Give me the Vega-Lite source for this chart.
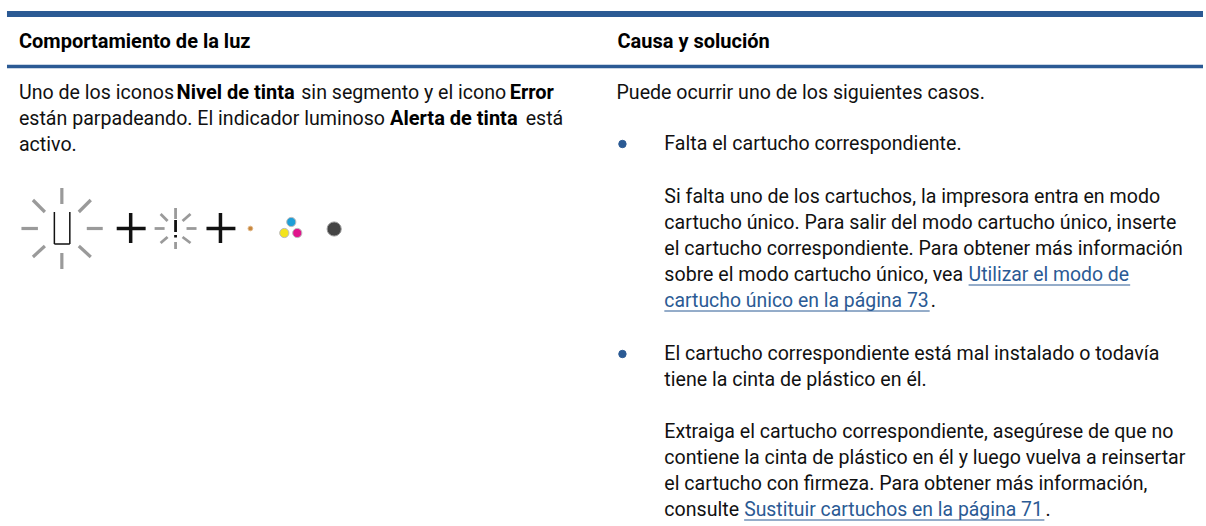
{"$schema":"https://vega.github.io/schema/vega-lite/v6.json","width":1206,"height":526,"padding":0,"autosize":{"type":"fit","contains":"padding"},"background":"white","view":{"stroke":null},"datasets":{"text":[
{"x":19,"y":48,"t":"Comportamiento de la luz","k":"b"},
{"x":619,"y":48,"t":"Causa y solución","k":"b"},
{"x":19,"y":99,"t":"Uno de los iconos","k":"n"},
{"x":177,"y":99,"t":"Nivel de tinta","k":"b"},
{"x":302,"y":99,"t":"sin segmento y el icono","k":"n"},
{"x":511,"y":99,"t":"Error","k":"b"},
{"x":19,"y":125,"t":"están parpadeando. El indicador luminoso","k":"n"},
{"x":391,"y":125,"t":"Alerta de tinta","k":"b"},
{"x":527,"y":125,"t":"está","k":"n"},
{"x":19,"y":151,"t":"activo.","k":"n"},
{"x":618,"y":99,"t":"Puede ocurrir uno de los siguientes casos.","k":"n"},
{"x":666,"y":150,"t":"Falta el cartucho correspondiente.","k":"n"},
{"x":666,"y":203,"t":"Si falta uno de los cartuchos, la impresora entra en modo","k":"n"},
{"x":666,"y":229,"t":"cartucho único. Para salir del modo cartucho único, inserte","k":"n"},
{"x":666,"y":255,"t":"el cartucho correspondiente. Para obtener más información","k":"n"},
{"x":666,"y":281,"t":"sobre el modo cartucho único, vea","k":"n"},
{"x":971,"y":281,"t":"Utilizar el modo de","k":"l"},
{"x":666,"y":307,"t":"cartucho único en la página 73","k":"l"},
{"x":933,"y":307,"t":".","k":"n"},
{"x":666,"y":360,"t":"El cartucho correspondiente está mal instalado o todavía","k":"n"},
{"x":666,"y":386,"t":"tiene la cinta de plástico en él.","k":"n"},
{"x":666,"y":438,"t":"Extraiga el cartucho correspondiente, asegúrese de que no","k":"n"},
{"x":666,"y":464,"t":"contiene la cinta de plástico en él y luego vuelva a reinsertar","k":"n"},
{"x":666,"y":490,"t":"el cartucho con firmeza. Para obtener más información,","k":"n"},
{"x":666,"y":516,"t":"consulte","k":"n"},
{"x":746,"y":516,"t":"Sustituir cartuchos en la página 71","k":"l"},
{"x":1048,"y":516,"t":".","k":"n"}
],
"bars":[{"x":7,"x2":1206,"y":14,"y2":14,"w":6},{"x":7,"x2":1206,"y":66.5,"y2":66.5,"w":3.5}],
"links":[{"x":971,"x2":1133,"y":285,"y2":285},{"x":666,"x2":932,"y":311,"y2":311},{"x":746,"x2":1047,"y":520,"y2":520}],
"grey":[
{"x":62,"x2":62,"y":188,"y2":204,"w":3.2},{"x":62,"x2":62,"y":253,"y2":269,"w":3.2},{"x":21.5,"x2":38,"y":228.5,"y2":228.5,"w":3.2},{"x":87,"x2":103,"y":228.5,"y2":228.5,"w":3.2},
{"x":33,"x2":45,"y":200,"y2":212,"w":3.2},{"x":91,"x2":79,"y":200,"y2":212,"w":3.2},{"x":33,"x2":45,"y":257,"y2":246,"w":3.2},{"x":91,"x2":79,"y":257,"y2":246,"w":3.2},
{"x":176,"x2":176,"y":208,"y2":219,"w":2.8},{"x":176,"x2":176,"y":242,"y2":249,"w":2.8},{"x":155,"x2":165,"y":228.5,"y2":228.5,"w":2.8},{"x":187,"x2":197,"y":228.5,"y2":228.5,"w":2.8},
{"x":161,"x2":168,"y":214,"y2":221,"w":2.8},{"x":191,"x2":183,"y":214,"y2":221,"w":2.8},{"x":161,"x2":168,"y":243,"y2":237,"w":2.8},{"x":191,"x2":183,"y":243,"y2":237,"w":2.8}],
"black":[
{"x":117,"x2":146,"y":228.5,"y2":228.5,"w":3.5},{"x":131,"x2":131,"y":213,"y2":243,"w":3.5},
{"x":207,"x2":236,"y":228.5,"y2":228.5,"w":3.5},{"x":221,"x2":221,"y":213,"y2":243,"w":3.5},
{"x":176,"x2":176,"y":220,"y2":232,"w":2.8},{"x":176,"x2":176,"y":235,"y2":237.5,"w":2.8},
{"x":54.5,"x2":54.5,"y":212,"y2":244,"w":1.5},{"x":70,"x2":70,"y":212,"y2":244,"w":1.5},{"x":54.5,"x2":70,"y":244,"y2":244,"w":1.5}],
"dots":[
{"x":251,"y":228.5,"c":"#c8873c","s":22,"e":"#e2b98a"},
{"x":292,"y":222,"c":"#1e9fd8","s":85,"e":"#bbbbbb"},
{"x":285,"y":233,"c":"#f3e41c","s":85,"e":"#bbbbbb"},
{"x":298,"y":233,"c":"#e0148c","s":85,"e":"#bbbbbb"},
{"x":335,"y":229,"c":"#444444","s":200,"e":"#999999"},
{"x":624,"y":144,"c":"#2b5a94","s":55,"e":"#2b5a94"},
{"x":624,"y":354,"c":"#2b5a94","s":55,"e":"#2b5a94"}
]},
"layer":[
{"data":{"name":"bars"},"mark":{"type":"rule","color":"#2b5a94"},"encoding":{"x":{"field":"x","type":"quantitative","scale":{"domain":[0,1206],"nice":false,"zero":false},"axis":null},"x2":{"field":"x2"},"y":{"field":"y","type":"quantitative","scale":{"domain":[526,0],"nice":false,"zero":false},"axis":null},"y2":{"field":"y2"},"strokeWidth":{"field":"w","type":"quantitative","scale":null}}},
{"data":{"name":"links"},"mark":{"type":"rule","color":"#2b5a94","strokeWidth":1},"encoding":{"x":{"field":"x","type":"quantitative","scale":{"domain":[0,1206],"nice":false,"zero":false},"axis":null},"x2":{"field":"x2"},"y":{"field":"y","type":"quantitative","scale":{"domain":[526,0],"nice":false,"zero":false},"axis":null},"y2":{"field":"y2"}}},
{"data":{"name":"grey"},"mark":{"type":"rule","color":"#9a9a9a"},"encoding":{"x":{"field":"x","type":"quantitative","scale":{"domain":[0,1206],"nice":false,"zero":false},"axis":null},"x2":{"field":"x2"},"y":{"field":"y","type":"quantitative","scale":{"domain":[526,0],"nice":false,"zero":false},"axis":null},"y2":{"field":"y2"},"strokeWidth":{"field":"w","type":"quantitative","scale":null}}},
{"data":{"name":"black"},"mark":{"type":"rule","color":"#111111"},"encoding":{"x":{"field":"x","type":"quantitative","scale":{"domain":[0,1206],"nice":false,"zero":false},"axis":null},"x2":{"field":"x2"},"y":{"field":"y","type":"quantitative","scale":{"domain":[526,0],"nice":false,"zero":false},"axis":null},"y2":{"field":"y2"},"strokeWidth":{"field":"w","type":"quantitative","scale":null}}},
{"data":{"name":"dots"},"mark":{"type":"point","filled":true,"opacity":1,"strokeWidth":1,"shape":"circle"},"encoding":{"x":{"field":"x","type":"quantitative","scale":{"domain":[0,1206],"nice":false,"zero":false},"axis":null},"y":{"field":"y","type":"quantitative","scale":{"domain":[526,0],"nice":false,"zero":false},"axis":null},"fill":{"field":"c","type":"nominal","scale":null},"stroke":{"field":"e","type":"nominal","scale":null},"size":{"field":"s","type":"quantitative","scale":null}}},
{"data":{"name":"text"},"transform":[{"filter":"datum.k=='n'"}],"mark":{"type":"text","align":"left","baseline":"alphabetic","font":"Roboto","fontSize":19.6,"color":"#111111"},"encoding":{"x":{"field":"x","type":"quantitative","scale":{"domain":[0,1206],"nice":false,"zero":false},"axis":null},"y":{"field":"y","type":"quantitative","scale":{"domain":[526,0],"nice":false,"zero":false},"axis":null},"text":{"field":"t"}}},
{"data":{"name":"text"},"transform":[{"filter":"datum.k=='b'"}],"mark":{"type":"text","align":"left","baseline":"alphabetic","font":"Roboto","fontSize":20,"fontWeight":"bold","color":"#000000"},"encoding":{"x":{"field":"x","type":"quantitative","scale":{"domain":[0,1206],"nice":false,"zero":false},"axis":null},"y":{"field":"y","type":"quantitative","scale":{"domain":[526,0],"nice":false,"zero":false},"axis":null},"text":{"field":"t"}}},
{"data":{"name":"text"},"transform":[{"filter":"datum.k=='l'"}],"mark":{"type":"text","align":"left","baseline":"alphabetic","font":"Roboto","fontSize":19.4,"color":"#2b5a94"},"encoding":{"x":{"field":"x","type":"quantitative","scale":{"domain":[0,1206],"nice":false,"zero":false},"axis":null},"y":{"field":"y","type":"quantitative","scale":{"domain":[526,0],"nice":false,"zero":false},"axis":null},"text":{"field":"t"}}}
]}
